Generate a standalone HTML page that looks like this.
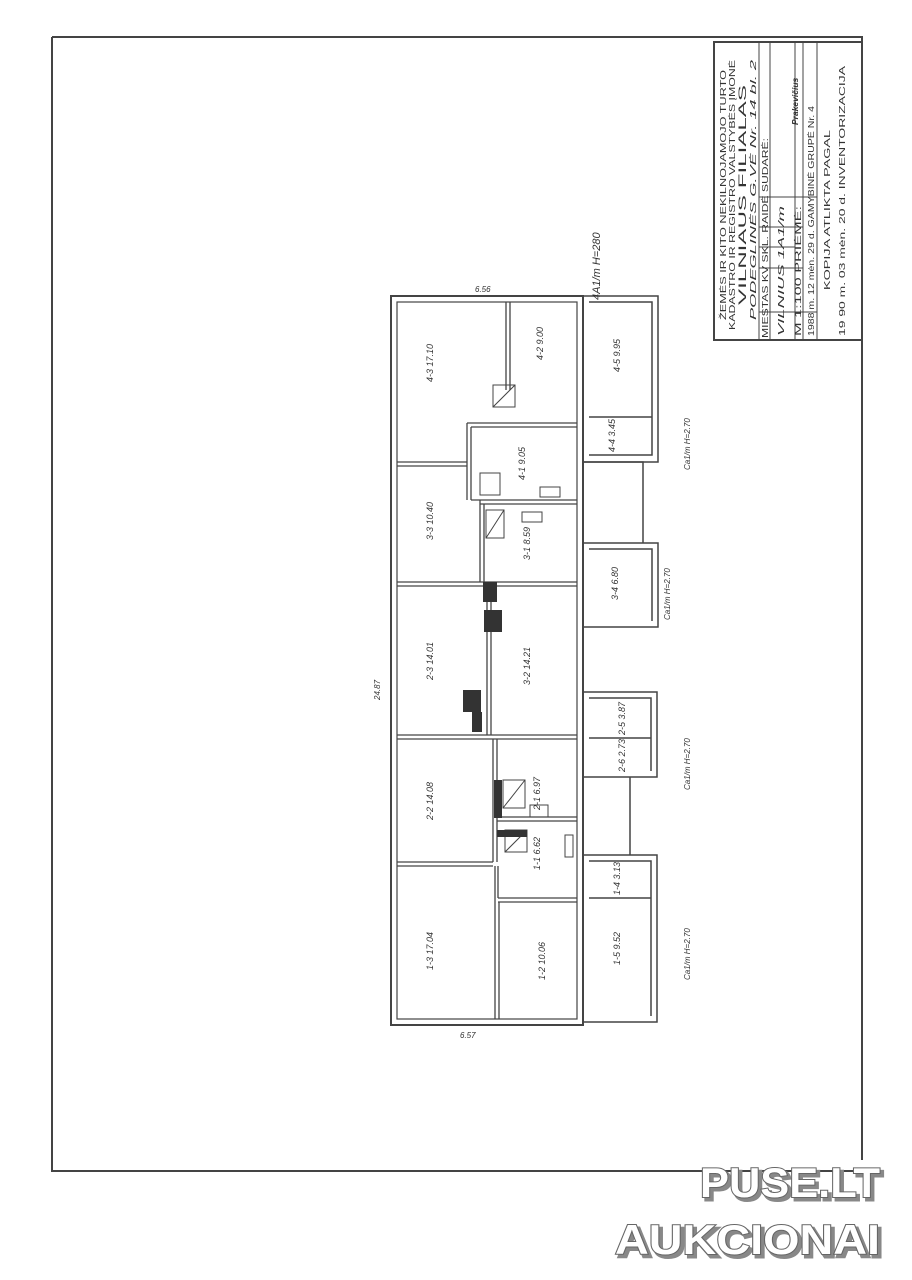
<!DOCTYPE html>
<html><head><meta charset="utf-8"><style>
html,body{margin:0;padding:0;background:#fff}
svg{display:block}
text{font-family:"Liberation Sans",sans-serif;fill:#333}
.wm{font-family:"Liberation Sans",sans-serif;font-weight:bold;fill:#fff;stroke:#666;stroke-width:2;paint-order:stroke}
.wms{font-family:"Liberation Sans",sans-serif;font-weight:bold;fill:#888;stroke:#888;stroke-width:3}
</style></head><body>
<svg width="912" height="1280" viewBox="0 0 912 1280" xmlns="http://www.w3.org/2000/svg">
<g stroke="#444" fill="none">
<path d="M52 37 H862 V1160 M52 37 V1171 H862" stroke-width="2"/>
<rect x="714" y="42" width="148" height="298" stroke-width="2"/>
<path d="M759 42V340 M770 42V340 M795 42V340 M803 42V340 M817 42V340" stroke-width="1"/>
<path d="M759 312H817 M759 268H803 M759 247H795 M759 227H803 M759 197H817" stroke-width="1"/>
</g>
<g stroke="#444" fill="none">
<rect x="391" y="296" width="192" height="729" stroke-width="2"/>
<rect x="397" y="302" width="180" height="717" stroke-width="1.2"/>
<path d="M583 296H658V462H583 M589 302H652V417H589 M589 417H652 V455 H589" stroke-width="1.5"/>
<path d="M583 462H643V543 M583 543H658V627H583 M589 549H652V621" stroke-width="1.5"/>
<path d="M583 692H657V777H583 M589 698H651V771 M589 738H651" stroke-width="1.5"/>
<path d="M630 777V855 M583 855H657V1022H583 M589 861H651V1016 M589 898H651" stroke-width="1.5"/>
<path d="M506 302V390 M510 302V390 M397 462H467 M397 466H467 M467 423H577 M471 427H577 M467 423V500 M471 427V500 M471 500H577 M480 504H577 M480 500V582 M484 504V582 M397 582H577 M397 586H577" stroke-width="1.3"/>
<path d="M487 586V735 M491 586V735 M397 735H577 M397 739H577 M493 739V862 M497 739V862 M397 862H493 M397 866H493 M497 817H577 M497 821H577 M498 866V898 M498 898H577 M498 902H577 M495 866V1019 M499 902V1019" stroke-width="1.3"/>
<rect x="493" y="385" width="22" height="22"/><path d="M493 407L515 385"/>
<rect x="540" y="487" width="20" height="10"/><rect x="522" y="512" width="20" height="10"/>
<rect x="480" y="473" width="20" height="22"/><rect x="486" y="510" width="18" height="28"/><path d="M486 538L504 510"/>
<rect x="503" y="780" width="22" height="28"/><path d="M503 808L525 780"/>
<rect x="505" y="830" width="22" height="22"/><path d="M505 852L527 830"/>
<rect x="530" y="805" width="18" height="12"/><rect x="565" y="835" width="8" height="22"/>
</g>
<g fill="#333">
<rect x="483" y="582" width="14" height="20"/><rect x="484" y="610" width="18" height="22"/>
<rect x="463" y="690" width="18" height="22"/><rect x="472" y="712" width="10" height="20"/>
<rect x="494" y="780" width="8" height="38"/><rect x="497" y="830" width="30" height="7"/>
</g>
<g font-size="9" font-style="italic">
<text transform="translate(433,382) rotate(-90)">4-3 17.10</text>
<text transform="translate(543,360) rotate(-90)">4-2 9.00</text>
<text transform="translate(620,372) rotate(-90)">4-5 9.95</text>
<text transform="translate(615,452) rotate(-90)">4-4 3.45</text>
<text transform="translate(525,480) rotate(-90)">4-1 9.05</text>
<text transform="translate(433,540) rotate(-90)">3-3 10.40</text>
<text transform="translate(530,560) rotate(-90)">3-1 8.59</text>
<text transform="translate(618,600) rotate(-90)">3-4 6.80</text>
<text transform="translate(433,680) rotate(-90)">2-3 14.01</text>
<text transform="translate(530,685) rotate(-90)">3-2 14.21</text>
<text transform="translate(625,735) rotate(-90)">2-5 3.87</text>
<text transform="translate(625,772) rotate(-90)">2-6 2.73</text>
<text transform="translate(433,820) rotate(-90)">2-2 14.08</text>
<text transform="translate(540,810) rotate(-90)">2-1 6.97</text>
<text transform="translate(540,870) rotate(-90)">1-1 6.62</text>
<text transform="translate(620,895) rotate(-90)">1-4 3.13</text>
<text transform="translate(433,970) rotate(-90)">1-3 17.04</text>
<text transform="translate(545,980) rotate(-90)">1-2 10.06</text>
<text transform="translate(620,965) rotate(-90)">1-5 9.52</text>
<text transform="translate(380,700) rotate(-90)" font-size="8">24.87</text>
<text transform="translate(600,300) rotate(-90)" font-size="11">4A1/m H=280</text>
<text transform="translate(690,470) rotate(-90)" font-size="8">Ca1/m H=2.70</text>
<text transform="translate(670,620) rotate(-90)" font-size="8">Ca1/m H=2.70</text>
<text transform="translate(690,790) rotate(-90)" font-size="8">Ca1/m H=2.70</text>
<text transform="translate(690,980) rotate(-90)" font-size="8">Ca1/m H=2.70</text>
<text x="475" y="292" font-size="8">6.56</text>
<text x="460" y="1038" font-size="8">6.57</text>
</g>
<g font-size="8.5">
<text transform="translate(726,320) rotate(-90)" textLength="250" lengthAdjust="spacingAndGlyphs">ŽEMĖS IR KITO NEKILNOJAMOJO TURTO</text>
<text transform="translate(735,330) rotate(-90)" textLength="270" lengthAdjust="spacingAndGlyphs">KADASTRO IR REGISTRO VALSTYBĖS ĮMONĖ</text>
<text transform="translate(746,305) rotate(-90)" font-size="11" textLength="220" lengthAdjust="spacingAndGlyphs">VILNIAUS FILIALAS</text>
<text transform="translate(756,320) rotate(-90)" font-style="italic" textLength="260" lengthAdjust="spacingAndGlyphs">PODEGLINĖS       G.VĖ Nr. 14   bl. 2</text>
<text transform="translate(768,338) rotate(-90)" textLength="200" lengthAdjust="spacingAndGlyphs">MIESTAS   KV   SKL.  RAIDĖ  SUDARĖ:</text>
<text transform="translate(784,336) rotate(-90)" font-style="italic" textLength="130" lengthAdjust="spacingAndGlyphs">VILNIUS           1A1/m</text>
<text transform="translate(801,336) rotate(-90)" textLength="130" lengthAdjust="spacingAndGlyphs">M 1:100            PRIĖMĖ:</text>
<text transform="translate(814,336) rotate(-90)" textLength="230" lengthAdjust="spacingAndGlyphs">1988 m.  12  mėn. 29 d.  GAMYBINĖ GRUPĖ Nr. 4</text>
<text transform="translate(830,290) rotate(-90)" textLength="160" lengthAdjust="spacingAndGlyphs">KOPIJA  ATLIKTA  PAGAL</text>
<text transform="translate(845,336) rotate(-90)" textLength="270" lengthAdjust="spacingAndGlyphs">19 90 m.  03  mėn. 20 d.   INVENTORIZACIJA</text>
<text transform="translate(798,125) rotate(-90)" font-style="italic" font-weight="bold">Prakevičius</text>
</g>
<text class="wms" x="703" y="1200" font-size="42" textLength="180" lengthAdjust="spacingAndGlyphs">PUSE.LT</text>
<text class="wm" x="700" y="1197" font-size="42" textLength="180" lengthAdjust="spacingAndGlyphs">PUSE.LT</text>
<text class="wms" x="618" y="1257" font-size="42" textLength="265" lengthAdjust="spacingAndGlyphs">AUKCIONAI</text>
<text class="wm" x="615" y="1254" font-size="42" textLength="265" lengthAdjust="spacingAndGlyphs">AUKCIONAI</text>
</svg>
</body></html>
